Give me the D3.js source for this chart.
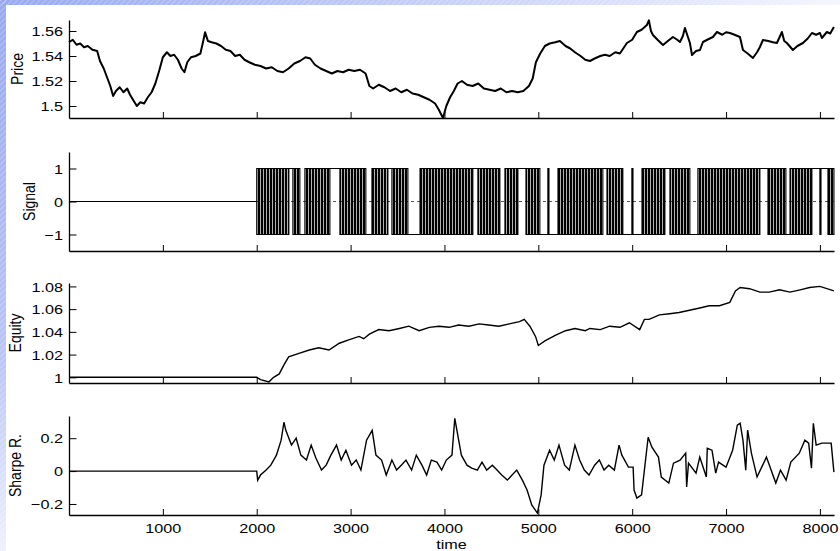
<!DOCTYPE html>
<html>
<head>
<meta charset="utf-8">
<script src="https://d3js.org/d3.v7.min.js"></script>
<style>
  body { margin:0; background:#fff; }
  text { font-family: "Liberation Sans", Arial, sans-serif; fill:#000; }
</style>
</head>
<body>
<script>
// values: [time, value]
var priceData = [[0,1.551],[40,1.553],[80,1.549],[120,1.550],[160,1.547],[200,1.548],[250,1.545],[300,1.544],[330,1.536],[370,1.530],[410,1.522],[440,1.516],[470,1.508],[500,1.512],[540,1.515],[580,1.511],[620,1.514],[650,1.509],[690,1.504],[723,1.500],[760,1.503],[800,1.502],[840,1.507],[880,1.511],[920,1.518],[960,1.528],[1000,1.539],[1043,1.543],[1080,1.540],[1120,1.541],[1160,1.537],[1200,1.530],[1230,1.527],[1260,1.535],[1300,1.539],[1350,1.540],[1400,1.542],[1430,1.552],[1450,1.559],[1480,1.552],[1520,1.551],[1570,1.550],[1620,1.548],[1670,1.545],[1720,1.544],[1770,1.540],[1820,1.541],[1870,1.537],[1920,1.535],[1980,1.533],[2040,1.532],[2100,1.530],[2160,1.531],[2220,1.528],[2280,1.527],[2340,1.530],[2400,1.534],[2460,1.536],[2520,1.539],[2570,1.538],[2620,1.533],[2680,1.530],[2740,1.528],[2800,1.526],[2860,1.528],[2920,1.527],[2980,1.529],[3040,1.528],[3100,1.529],[3160,1.526],[3200,1.516],[3240,1.514],[3300,1.517],[3360,1.515],[3420,1.512],[3480,1.514],[3540,1.511],[3600,1.513],[3660,1.510],[3720,1.509],[3780,1.507],[3840,1.505],[3900,1.502],[3940,1.497],[3984,1.4904],[4020,1.500],[4060,1.507],[4100,1.512],[4140,1.518],[4186,1.520],[4240,1.517],[4300,1.516],[4360,1.518],[4420,1.514],[4480,1.513],[4540,1.512],[4600,1.514],[4660,1.511],[4720,1.512],[4780,1.511],[4840,1.512],[4900,1.516],[4940,1.522],[4974,1.535],[5020,1.542],[5070,1.548],[5120,1.550],[5180,1.551],[5230,1.552],[5290,1.548],[5340,1.546],[5390,1.543],[5450,1.540],[5500,1.537],[5550,1.536],[5600,1.538],[5660,1.540],[5709,1.541],[5760,1.540],[5820,1.543],[5869,1.542],[5944,1.5504],[6000,1.553],[6050,1.5592],[6100,1.561],[6157,1.5648],[6178,1.5685],[6200,1.560],[6221,1.5568],[6270,1.553],[6328,1.5488],[6380,1.552],[6434,1.5552],[6480,1.553],[6509,1.5512],[6540,1.556],[6562,1.5624],[6590,1.556],[6615,1.5504],[6637,1.5408],[6680,1.544],[6722,1.5448],[6754,1.5512],[6800,1.553],[6860,1.5552],[6903,1.5592],[6960,1.557],[7000,1.559],[7041,1.5584],[7090,1.557],[7148,1.5552],[7180,1.5448],[7230,1.542],[7286,1.5384],[7330,1.543],[7361,1.5472],[7393,1.5528],[7450,1.552],[7500,1.551],[7542,1.5504],[7595,1.5592],[7620,1.552],[7648,1.5504],[7712,1.5448],[7760,1.548],[7819,1.5504],[7870,1.554],[7915,1.5584],[7960,1.557],[8000,1.5584],[8021,1.5544],[8074,1.5592],[8110,1.558],[8149,1.5632]];

// signal runs: [start, end, level]; "b" = switching too fast to separate
var signalRuns = [[0,2000,0],[2000,2343,"b"],[2343,2385,1],[2385,2460,"b"],[2460,2513,-1],[2513,2780,"b"],[2780,2886,1],[2886,3163,"b"],[3163,3227,-1],[3227,3398,"b"],[3398,3440,1],[3440,3611,"b"],[3611,3739,-1],[3739,4303,"b"],[4303,4356,1],[4356,4591,"b"],[4591,4644,-1],[4644,4783,"b"],[4783,4868,1],[4868,5017,"b"],[5017,5102,-1],[5102,5113,1],[5113,5209,-1],[5209,5688,"b"],[5688,5731,1],[5731,5901,"b"],[5901,5997,-1],[5997,6008,1],[6008,6104,-1],[6104,6349,"b"],[6349,6402,1],[6402,6615,"b"],[6615,6700,-1],[6700,7361,"b"],[7361,7446,1],[7446,7638,"b"],[7638,7681,-1],[7681,7915,"b"],[7915,8000,1],[8000,8011,-1],[8011,8085,1],[8085,8150,"b"]];

var equityData = [[0,1],[2000,1],[2040,0.998],[2130,0.996],[2180,1],[2240,1.003],[2290,1.011],[2340,1.018],[2450,1.021],[2560,1.024],[2660,1.026],[2770,1.024],[2880,1.030],[2980,1.033],[3090,1.036],[3140,1.034],[3200,1.038],[3300,1.042],[3410,1.041],[3520,1.043],[3620,1.045],[3730,1.041],[3840,1.044],[3940,1.045],[4050,1.044],[4150,1.046],[4260,1.045],[4370,1.047],[4470,1.046],[4580,1.045],[4690,1.047],[4800,1.049],[4850,1.051],[4910,1.045],[4970,1.036],[5000,1.028],[5070,1.032],[5180,1.037],[5290,1.041],[5390,1.043],[5500,1.041],[5550,1.043],[5660,1.042],[5760,1.045],[5870,1.044],[5970,1.048],[6080,1.042],[6130,1.051],[6180,1.051],[6290,1.055],[6400,1.056],[6500,1.057],[6610,1.059],[6720,1.061],[6820,1.063],[6930,1.063],[7040,1.066],[7100,1.076],[7150,1.079],[7250,1.078],[7360,1.075],[7460,1.075],[7570,1.077],[7680,1.075],[7790,1.077],[7890,1.079],[8000,1.080],[8149,1.076]];

var sharpeData = [[0,0],[2000,0],[2010,-0.055],[2040,-0.024],[2100,0.006],[2150,0.036],[2210,0.097],[2260,0.188],[2290,0.297],[2310,0.248],[2370,0.158],[2420,0.200],[2470,0.097],[2530,0.067],[2580,0.158],[2630,0.079],[2690,0.006],[2740,0.036],[2790,0.097],[2850,0.158],[2900,0.067],[2950,0.127],[3010,0.036],[3060,0.067],[3110,0.006],[3170,0.188],[3230,0.248],[3270,0.097],[3330,0.067],[3380,-0.024],[3440,0.067],[3490,0.006],[3540,0.036],[3590,0.067],[3650,0.006],[3700,0.097],[3760,0.036],[3810,-0.024],[3860,0.067],[3920,0.055],[3970,0.006],[4020,0.067],[4080,0.097],[4110,0.321],[4180,0.097],[4240,0.036],[4290,0.018],[4350,0.006],[4400,0.055],[4450,0.006],[4510,0.036],[4560,0.006],[4610,-0.024],[4670,-0.055],[4720,-0.024],[4770,0.006],[4830,-0.055],[4880,-0.115],[4930,-0.206],[4990,-0.255],[5030,-0.145],[5060,0.036],[5120,0.127],[5170,0.067],[5220,0.158],[5280,0.036],[5330,0.006],[5390,0.158],[5440,0.067],[5490,0.006],[5540,-0.024],[5600,0.036],[5650,0.067],[5700,0.006],[5750,0.036],[5810,0.006],[5860,0.158],[5890,0.097],[5960,0.024],[6010,0.024],[6020,-0.115],[6050,-0.164],[6100,-0.145],[6170,0.206],[6210,0.145],[6280,0.085],[6310,-0.036],[6390,-0.073],[6440,0.048],[6510,0.067],[6570,0.109],[6580,-0.097],[6600,0.048],[6680,-0.012],[6720,0.085],[6790,-0.036],[6800,0.139],[6850,0.127],[6890,-0.012],[6920,0.055],[7000,0.024],[7070,0.127],[7120,0.279],[7150,0.291],[7180,0.188],[7210,0.006],[7230,0.249],[7270,0.109],[7330,-0.036],[7380,0.024],[7430,0.085],[7480,0.006],[7530,-0.073],[7580,0.006],[7640,-0.055],[7690,0.055],[7780,0.109],[7840,0.188],[7880,0.170],[7910,0.018],[7930,0.291],[7960,0.158],[8020,0.170],[8120,0.170],[8149,-0.006]];

var timeTicks = [1000,2000,3000,4000,5000,6000,7000,8000];
var priceTicks = [1.5,1.52,1.54,1.56];
var signalTicks = [-1,0,1];
var equityTicks = [1,1.02,1.04,1.06,1.08];
var sharpeTicks = [-0.2,0,0.2];

var W = 840, H = 551;
var left = 69, right = 834;
var sx = 1.2; // the picture's text is stretched sideways

var svg = d3.select("body").append("svg")
    .attr("width", W)
    .attr("height", H);

// slide background: blue hatched strips on top and left
var defs = svg.append("defs");
var hatch = defs.append("pattern").attr("id", "hatch")
    .attr("patternUnits", "userSpaceOnUse").attr("width", 4).attr("height", 4)
    .attr("patternTransform", "rotate(45)");
hatch.append("rect").attr("width", 4).attr("height", 4).attr("fill", "none");
hatch.append("line").attr("x1", 0).attr("y1", 0).attr("x2", 0).attr("y2", 4)
    .attr("stroke", "#fff").attr("stroke-opacity", 0.35).attr("stroke-width", 1.5);
var gTop = defs.append("linearGradient").attr("id", "gTop");
gTop.append("stop").attr("offset", "0%").attr("stop-color", "#98a9f0");
gTop.append("stop").attr("offset", "60%").attr("stop-color", "#cdd5f8");
gTop.append("stop").attr("offset", "100%").attr("stop-color", "#f4f6fe");
var gLeft = defs.append("linearGradient").attr("id", "gLeft")
    .attr("x1", 0).attr("y1", 0).attr("x2", 0).attr("y2", 1);
gLeft.append("stop").attr("offset", "0%").attr("stop-color", "#98a9f0");
gLeft.append("stop").attr("offset", "65%").attr("stop-color", "#b9c5f5");
gLeft.append("stop").attr("offset", "100%").attr("stop-color", "#eef1fd");

// texture for stretches where the signal flips faster than a pixel
var flips = defs.append("pattern").attr("id", "flips")
    .attr("patternUnits", "userSpaceOnUse").attr("width", 3).attr("height", 10);
flips.append("rect").attr("width", 2.3).attr("height", 10).attr("fill", "#000");

svg.append("rect").attr("width", W).attr("height", H).attr("fill", "#fff");
svg.append("rect").attr("width", W).attr("height", 5).attr("fill", "url(#gTop)");
svg.append("rect").attr("width", 6).attr("height", H).attr("fill", "url(#gLeft)");
svg.append("rect").attr("width", W).attr("height", 5).attr("fill", "url(#hatch)");
svg.append("rect").attr("width", 6).attr("height", H).attr("fill", "url(#hatch)");

var x = d3.scaleLinear().domain([0, 8150]).range([left, right]);

var panels = [
  {label: "Price",     top: 20,  bottom: 118, domain: [1.4904, 1.5688], ticks: priceTicks,  labelX: 23},
  {label: "Signal",    top: 152, bottom: 251, domain: [-1.5, 1.5],      ticks: signalTicks, labelX: 35},
  {label: "Equity",    top: 283, bottom: 383, domain: [0.995, 1.083],   ticks: equityTicks, labelX: 21},
  {label: "Sharpe R.", top: 416, bottom: 515, domain: [-0.267, 0.335],  ticks: sharpeTicks, labelX: 21}
];

var fmt = d3.format("~g");
function minus(s){ return String(s).replace("-", "\u2212"); }

panels.forEach(function(p, i){
  p.y = d3.scaleLinear().domain(p.domain).range([p.bottom, p.top]);
  var g = svg.append("g");

  // x axis (ticks point inward)
  var xa = d3.axisBottom(x).tickValues(timeTicks).tickSizeInner(-6).tickSizeOuter(0)
      .tickFormat(i == 3 ? d3.format("d") : "");
  var xg = g.append("g").attr("transform", "translate(0," + p.bottom + ")").call(xa);
  xg.select(".domain").attr("stroke", "#000").attr("stroke-width", 1.3);
  xg.selectAll(".tick line").attr("stroke", "#000").attr("stroke-width", 1);
  xg.selectAll(".tick text")
      .attr("y", 18).attr("dy", 0)
      .attr("font-size", 13.5)
      .attr("transform", "scale(" + sx + ",1)")
      .attr("fill", "#000");

  // y axis
  var ya = d3.axisLeft(p.y).tickValues(p.ticks).tickSizeInner(-7.5).tickSizeOuter(0)
      .tickFormat(function(d){ return minus(fmt(d)); });
  var yg = g.append("g").attr("transform", "translate(" + left + ",0)").call(ya);
  yg.select(".domain").attr("stroke", "#000").attr("stroke-width", 1.3);
  yg.selectAll(".tick line").attr("stroke", "#000").attr("stroke-width", 1);
  yg.selectAll(".tick text")
      .attr("x", 0).attr("dy", "0.35em")
      .attr("font-size", 13.5)
      .attr("text-anchor", "end")
      .attr("transform", "translate(-6,0) scale(" + sx + ",1)")
      .attr("fill", "#000");

  // y label
  svg.append("text")
      .attr("transform", "translate(" + p.labelX + "," + ((p.top + p.bottom) / 2) + ") scale(" + sx + ",1) rotate(-90)")
      .attr("text-anchor", "middle")
      .attr("font-size", 14)
      .text(p.label);
});

var line = d3.line()
    .x(function(d){ return x(d[0]); });

// price
var pP = panels[0];
svg.append("path").datum(priceData)
    .attr("fill", "none").attr("stroke", "#000").attr("stroke-width", 2)
    .attr("stroke-linejoin", "round")
    .attr("d", line.y(function(d){ return pP.y(d[1]); }));

// signal
var pS = panels[1];
svg.append("line")
    .attr("x1", x(0)).attr("x2", x(8150))
    .attr("y1", pS.y(0)).attr("y2", pS.y(0))
    .attr("stroke", "#555").attr("stroke-width", 1).attr("stroke-dasharray", "3,3");
var sPath = d3.path();
var prevLevel = null;
signalRuns.forEach(function(r){
  if (r[2] === "b") {
    svg.append("rect")
        .attr("x", x(r[0])).attr("width", x(r[1]) - x(r[0]))
        .attr("y", pS.y(1)).attr("height", pS.y(-1) - pS.y(1))
        .attr("fill", "url(#flips)")
        .attr("stroke", "#000").attr("stroke-width", 1);
    prevLevel = null;
  } else {
    if (prevLevel === null) sPath.moveTo(x(r[0]), pS.y(r[2]));
    else sPath.lineTo(x(r[0]), pS.y(r[2]));
    sPath.lineTo(x(r[1]), pS.y(r[2]));
    prevLevel = r[2];
  }
});
svg.append("path").attr("d", sPath.toString())
    .attr("fill", "none").attr("stroke", "#000").attr("stroke-width", 1.2);

// equity
var pE = panels[2];
svg.append("path").datum(equityData)
    .attr("fill", "none").attr("stroke", "#000").attr("stroke-width", 1.4)
    .attr("d", line.y(function(d){ return pE.y(d[1]); }));

// sharpe
var pR = panels[3];
svg.append("path").datum(sharpeData)
    .attr("fill", "none").attr("stroke", "#000").attr("stroke-width", 1.4)
    .attr("d", line.y(function(d){ return pR.y(d[1]); }));

svg.append("text")
    .attr("transform", "translate(" + ((left + right) / 2) + ",549) scale(" + sx + ",1)")
    .attr("text-anchor", "middle")
    .attr("font-size", 13.5)
    .text("time");
</script>
</body>
</html>
